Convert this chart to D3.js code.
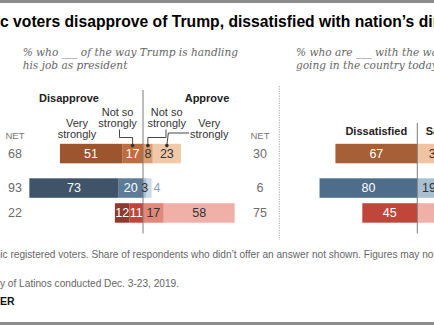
<!DOCTYPE html>
<html>
<head>
<meta charset="utf-8">
<script src="https://cdn.jsdelivr.net/npm/d3@7"></script>
<style>
  body { margin: 0; background: #fff; }
  svg { display: block; }
</style>
</head>
<body>
<svg id="chart"></svg>
<script>
// survey rows (group names are the row keys)
const groups = ["All Hispanic voters", "Dem/lean Dem", "Rep/lean Rep"];

// Trump job approval
const disapproveVery = [51, 73, 12];
const disapproveNotSo = [17, 20, 11];
const approveNotSo = [8, 3, 17];
const approveVery = [23, 4, 58];
const netDisapprove = [68, 93, 22];
const netApprove = [30, 6, 75];

// direction of the country
const dissatisfied = [67, 80, 45];
const satisfied = [30, 19, 53];

const sans = "'Liberation Sans', Arial, sans-serif";
const serif = "'DejaVu Serif', Georgia, serif";

const width = 434;
const height = 325;

const svg = d3.select("#chart")
  .attr("width", width)
  .attr("height", height)
  .style("font-family", sans);

// colours, one entry per row
const shades = {
  disVery: ["#9d5530", "#3f5468", "#8e3a2f"],
  disNot: ["#bd6e3f", "#5d7a96", "#c1463a"],
  appNot: ["#df9e71", "#a9bfd2", "#e3877a"],
  appVery: ["#f1c8a8", "#cbdae6", "#f0b0a7"],
  dis: ["#a65f37", "#4e6d8a", "#c1463a"],
  sat: ["#efc3a3", "#a9bfd2", "#f0b0a7"]
};
const whiteText = new Set(["disVery", "disNot", "dis"]);
const outsideColor = ["#c98d63", "#86a5c0", "#d9776b"];

// grey rules top and bottom
svg.append("rect").attr("x", 0).attr("y", 0).attr("width", width).attr("height", 3).attr("fill", "#8c8c8c");
svg.append("rect").attr("x", 0).attr("y", 322).attr("width", width).attr("height", 3).attr("fill", "#8c8c8c");

// place a line of text so that a given part of it runs from x0 to x1
function clipLine(sel, visible, x0, x1) {
  const node = sel.node();
  const i = node.textContent.indexOf(visible);
  if (x1 !== undefined) {
    const size = parseFloat(sel.attr("font-size"));
    const w = node.getSubStringLength(i, visible.length);
    sel.attr("font-size", size * (x1 - x0) / w);
  }
  sel.attr("x", x0 - node.getSubStringLength(0, i));
}

// title
const title = svg.append("text")
  .attr("y", 27.3)
  .attr("font-size", 14)
  .attr("font-weight", "bold")
  .attr("fill", "#000")
  .text("Hispanic voters disapprove of Trump, dissatisfied with nation\u2019s direction");
clipLine(title, "c voters disapprove of Trump, dissatisfied with nation\u2019s di", 0, 433);

// subtitles
const subLeft = ["% who ___ of the way Trump is handling", "his job as president"];
const subRight = ["% who are ___ with the way things are", "going in the country today"];
const sub1 = svg.append("text")
  .attr("x", 22.7).attr("y", 55.5)
  .attr("font-size", 11)
  .attr("font-family", serif).attr("font-style", "italic")
  .attr("fill", "#666")
  .text(subLeft[0]);
{
  const w = sub1.node().getComputedTextLength();
  sub1.attr("font-size", 11 * (238.3 - 22.7) / w);
}
const subSize = sub1.attr("font-size");
[[22.7, subLeft], [296, subRight]].forEach(([x, lines], k) => {
  lines.forEach((t, j) => {
    if (k === 0 && j === 0) return;
    svg.append("text")
      .attr("x", x).attr("y", 55.5 + j * 13.5)
      .attr("font-size", subSize)
      .attr("font-family", serif).attr("font-style", "italic")
      .attr("fill", "#666")
      .text(t);
  });
});

// scales
const rowTop = d3.scaleOrdinal().domain(groups).range([143.8, 178.3, 203.2]);
const barH = 19.5;
const xL = d3.scaleLinear().domain([-100, 100]).range([143 - 122.2, 143 + 122.2]);
const xR = d3.scaleLinear().domain([-100, 100]).range([417.3 - 122.2, 417.3 + 122.2]);

// stacked, diverging around zero
const trumpRows = groups.map((g, i) => ({
  group: g,
  disNot: -disapproveNotSo[i],
  disVery: -disapproveVery[i],
  appNot: approveNotSo[i],
  appVery: approveVery[i]
}));
const trumpSeries = d3.stack()
  .keys(["disNot", "disVery", "appNot", "appVery"])
  .offset(d3.stackOffsetDiverging)(trumpRows);

const countryRows = groups.map((g, i) => ({ group: g, dis: -dissatisfied[i], sat: satisfied[i] }));
const countrySeries = d3.stack()
  .keys(["dis", "sat"])
  .offset(d3.stackOffsetDiverging)(countryRows);

function drawBars(series, x) {
  const g = svg.append("g");
  series.forEach(s => {
    g.selectAll(null)
      .data(s)
      .join("rect")
      .attr("x", d => x(d[0]))
      .attr("y", d => rowTop(d.data.group))
      .attr("width", d => x(d[1]) - x(d[0]))
      .attr("height", barH)
      .attr("fill", (d, i) => shades[s.key][i]);
  });
  return g;
}

function drawValues(series, x) {
  const g = svg.append("g")
    .attr("font-size", 12.5)
    .attr("text-anchor", "middle");
  series.forEach(s => {
    g.selectAll(null)
      .data(s)
      .join("text")
      .each(function (d, i) {
        const w = Math.abs(x(d[1]) - x(d[0]));
        const outside = s.key === "appVery" && w < 8;
        d3.select(this)
          .attr("x", outside ? x(d[1]) + 5.5 : (x(d[0]) + x(d[1])) / 2)
          .attr("y", rowTop(d.data.group) + barH / 2 + 4.4)
          .attr("fill", outside ? outsideColor[i] : whiteText.has(s.key) ? "#fff" : "#333")
          .text(Math.abs(d[1] - d[0]));
      });
  });
}

drawBars(trumpSeries, xL);
drawBars(countrySeries, xR);

// zero lines and panel divider
svg.append("line")
  .attr("x1", xL(0)).attr("x2", xL(0))
  .attr("y1", 90).attr("y2", 233.5)
  .attr("stroke", "#7a7a7a").attr("stroke-width", 1);
svg.append("line")
  .attr("x1", xR(0)).attr("x2", xR(0))
  .attr("y1", 123).attr("y2", 233.5)
  .attr("stroke", "#7a7a7a").attr("stroke-width", 1);
svg.append("line")
  .attr("x1", 279.3).attr("x2", 279.3)
  .attr("y1", 86).attr("y2", 240)
  .attr("stroke", "#a6a6a6").attr("stroke-width", 1)
  .attr("stroke-dasharray", "1.2,1.2");

drawValues(trumpSeries, xL);
drawValues(countrySeries, xR);

// NET columns
[[15, netDisapprove], [260, netApprove]].forEach(([x, vals]) => {
  svg.append("text")
    .attr("x", x).attr("y", 139)
    .attr("font-size", 9.5).attr("text-anchor", "middle")
    .attr("fill", "#777")
    .text("NET");
  svg.selectAll(null)
    .data(vals)
    .join("text")
    .attr("x", x)
    .attr("y", (d, i) => rowTop(groups[i]) + barH / 2 + 4.4)
    .attr("font-size", 12.5).attr("text-anchor", "middle")
    .attr("fill", "#6b6b6b")
    .text(d => d);
});

// column headers
const headers = [
  { text: "Disapprove", x: 69, y: 101.5, anchor: "middle" },
  { text: "Approve", x: 207, y: 101.5, anchor: "middle" },
  { text: "Dissatisfied", x: 376.3, y: 135, anchor: "middle" },
  { text: "Satisfied", x: 425.7, y: 135, anchor: "start" }
];
svg.selectAll(null)
  .data(headers)
  .join("text")
  .attr("x", d => d.x).attr("y", d => d.y)
  .attr("text-anchor", d => d.anchor)
  .attr("font-size", 11).attr("font-weight", "bold")
  .attr("fill", "#222")
  .text(d => d.text);

// segment labels over the first row
const labels = [
  { lines: ["Very", "strongly"], x: 77, y: 126.5 },
  { lines: ["Not so", "strongly"], x: 117.6, y: 115.5 },
  { lines: ["Not so", "strongly"], x: 166.7, y: 115.5 },
  { lines: ["Very", "strongly"], x: 209.3, y: 126.5 }
];
labels.forEach(l => {
  const t = svg.append("text")
    .attr("font-size", 11).attr("text-anchor", "middle")
    .attr("fill", "#333");
  l.lines.forEach((line, j) => {
    t.append("tspan").attr("x", l.x).attr("y", l.y + j * 11.2).text(line);
  });
});

// leader lines from labels to the first-row segments
const mid = key => {
  const d = trumpSeries.find(s => s.key === key)[0];
  return xL((d[0] + d[1]) / 2);
};
const dotY = rowTop(groups[0]) + 1.8;
const leaders = [
  [[119.5, 129.5], [119.5, 137.5], [mid("disNot"), 137.5], [mid("disNot"), dotY]],
  [[166, 129.5], [166, 137.5], [mid("appNot"), 137.5], [mid("appNot"), dotY]],
  [[189, 133], [mid("appVery") + 1.5, 133], [mid("appVery"), dotY]]
];
const lineGen = d3.line();
leaders.forEach(pts => {
  svg.append("path")
    .attr("d", lineGen(pts))
    .attr("fill", "none")
    .attr("stroke", "#333").attr("stroke-width", 0.9);
  const end = pts[pts.length - 1];
  svg.append("circle")
    .attr("cx", end[0]).attr("cy", end[1]).attr("r", 1.8)
    .attr("fill", "#333");
});

// notes and source
const note = svg.append("text")
  .attr("y", 258).attr("font-size", 10).attr("fill", "#666")
  .text("Note: Based on Hispanic registered voters. Share of respondents who didn\u2019t offer an answer not shown. Figures may not add to 100% due to rounding.");
clipLine(note, "ic registered voters. Share of respondents who didn\u2019t offer an answer not shown. Figures may no", 0.3, 434);

const source = svg.append("text")
  .attr("y", 287).attr("font-size", note.attr("font-size")).attr("fill", "#666")
  .text("Source: Survey of Latinos conducted Dec. 3-23, 2019.");
clipLine(source, "y of Latinos conducted Dec. 3-23, 2019.", 0);

const logo = svg.append("text")
  .attr("y", 305).attr("font-size", 10.5).attr("font-weight", "bold").attr("fill", "#111")
  .text("PEW RESEARCH CENTER");
clipLine(logo, "ER", 0);
</script>
</body>
</html>
